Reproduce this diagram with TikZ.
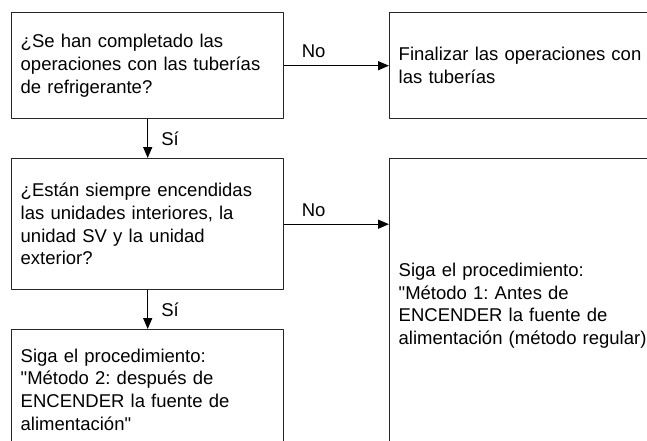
\documentclass[tikz,border=0pt]{standalone}
\usepackage{fontspec}
\setmainfont{Liberation Sans}[Ligatures=TeXOff]
\usetikzlibrary{arrows.meta}
\begin{document}
\frenchspacing
\begin{tikzpicture}[x=1pt, y=-1pt, line join=round, >={Triangle[length=11pt,width=9pt]},
	font=\fontsize{18.5}{22.7}\selectfont]
	\tikzset{
	box/.style={draw=black!85, line width=1.4pt, rectangle, align=left, inner xsep=9pt, inner ysep=0pt},
	flow/.style={->, line width=1.4pt, black},
	lbl/.style={inner sep=2pt}
	}
	\useasboundingbox (0,0) rectangle (647,441);
	\clip (0,0) rectangle (647,441);
	% preguntas y resultados
	\node[box, anchor=north west, minimum width=272pt, minimum height=106pt, text width=254pt] (q1) at (11,12)
	{¿Se han completado las\\operaciones con las tuberías\\de refrigerante?};
	\node[box, anchor=north west, minimum width=290pt, minimum height=106pt, text width=272pt] (fin) at (389,12)
	{Finalizar las operaciones con\\las tuberías};
	\node[box, anchor=north west, minimum width=272pt, minimum height=131pt, text width=254pt] (q2) at (11,158)
	{¿Están siempre encendidas\\las unidades interiores, la\\unidad SV y la unidad\\exterior?};
	\node[box, anchor=north west, minimum width=290pt, minimum height=294pt, text width=272pt] (m1) at (389,158)
	{Siga el procedimiento:\\"Método 1: Antes de\\ENCENDER la fuente de\\alimentación (método regular)"};
	\node[box, anchor=north west, minimum width=272pt, minimum height=120pt, text width=254pt] (m2) at (11,329)
	{Siga el procedimiento:\\"Método 2: después de\\ENCENDER la fuente de\\alimentación"};
	% conectores
	\draw[flow] (q1.east) -- node[lbl, above=5pt, pos=0.28]{No} (fin.west);
	\draw[flow] (q1.south) -- node[lbl, right=11pt]{Sí} (q2.north);
	\draw[flow] (q2.east) -- node[lbl, above=5pt, pos=0.28]{No} (q2.east -| m1.west);
	\draw[flow] (q2.south) -- node[lbl, right=11pt]{Sí} (m2.north);
\end{tikzpicture}
\end{document}
